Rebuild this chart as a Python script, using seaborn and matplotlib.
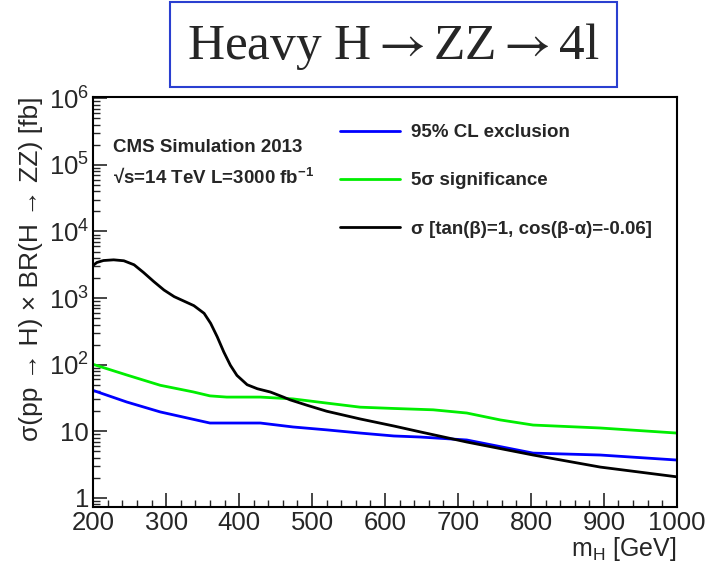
import numpy as np
import pandas as pd
import matplotlib
matplotlib.use("Agg")
import matplotlib.pyplot as plt
from matplotlib.patches import Rectangle
from matplotlib.lines import Line2D
from matplotlib.ticker import MultipleLocator, LogLocator, NullFormatter, FuncFormatter
import seaborn as sns

# ---- data ----
mass_excl = [200, 246, 292, 347, 360, 401, 429, 474, 520, 566, 612, 648, 712, 803, 895, 1000]
xsec_excl = [41, 27.5, 19.5, 14.3, 13.3, 13.3, 13.3, 11.6, 10.5, 9.4, 8.5, 8.2, 7.4, 4.7, 4.4, 3.7]

mass_sig = [200, 246, 292, 337, 360, 383, 429, 474, 520, 566, 612, 666, 712, 758, 803, 895, 1000]
xsec_sig = [101, 70, 49, 39, 34, 32.6, 32.6, 30.6, 26.5, 23, 22, 21, 18.8, 14.8, 12.4, 11.2, 9.4]

mass_th = [200, 205, 214, 228, 242, 256, 269, 283, 297, 311, 324, 338, 352, 361, 370, 379, 388,
           397, 411, 425, 443, 461, 470, 493, 520, 566, 612, 648, 712, 803, 895, 1000]
xsec_th = [3100, 3420, 3660, 3750, 3630, 3160, 2420, 1770, 1320, 1050, 904, 769, 590, 417, 262, 155, 98,
           69, 50, 43.5, 38.8, 32.5, 29.6, 24.6, 20, 15.3, 12, 9.8, 6.9, 4.4, 2.9, 2.07]

labels = ["95% CL exclusion", "5\u03c3 significance", "\u03c3 [tan(\u03b2)=1, cos(\u03b2-\u03b1)=-0.06]"]
colors = ["#0000ff", "#00ee00", "#000000"]

title = r"Heavy H$\rightarrow$ZZ$\rightarrow$4l"
cms_text = "CMS Simulation 2013"
energy_text = "\u221as=14 TeV L=3000 " + r"$\mathbf{fb^{-1}}$"

# ---- style ----
sns.set_style("ticks")
plt.rcParams["font.family"] = ["Liberation Sans", "DejaVu Sans"]
plt.rcParams["mathtext.fontset"] = "custom"
plt.rcParams["mathtext.rm"] = "Liberation Sans"
plt.rcParams["mathtext.it"] = "Liberation Sans:italic"
plt.rcParams["mathtext.bf"] = "Liberation Sans:bold"

df = pd.concat([
    pd.DataFrame({"m": mass_excl, "xs": xsec_excl, "curve": labels[0]}),
    pd.DataFrame({"m": mass_sig, "xs": xsec_sig, "curve": labels[1]}),
    pd.DataFrame({"m": mass_th, "xs": xsec_th, "curve": labels[2]}),
], ignore_index=True)

fig = plt.figure(figsize=(7.17, 5.63), dpi=100)
ax = fig.add_axes([0.130, 0.0995, 0.814, 0.7285])

sns.lineplot(data=df, x="m", y="xs", hue="curve", palette=dict(zip(labels, colors)),
             hue_order=labels, linewidth=2.0, ax=ax, legend=False, sort=True)

ax.set_yscale("log")
ax.set_xlim(200, 1000)
ax.set_ylim(0.73, 1.05e6)

ax.xaxis.set_major_locator(MultipleLocator(100))
ax.xaxis.set_minor_locator(MultipleLocator(20))
ax.yaxis.set_major_locator(LogLocator(base=10, numticks=20))
ax.yaxis.set_minor_locator(LogLocator(base=10, subs=np.arange(2, 10), numticks=20))
ax.yaxis.set_minor_formatter(NullFormatter())

def yfmt(v, pos):
    e = int(round(np.log10(v)))
    if e == 0:
        return "1"
    if e == 1:
        return "10"
    return r"$\mathdefault{10^{%d}}$" % e
ax.yaxis.set_major_formatter(FuncFormatter(yfmt))

ax.tick_params(axis="both", which="major", direction="in", length=10, width=1.2,
               labelsize=18.5, pad=3, top=False, right=False)
ax.tick_params(axis="both", which="minor", direction="in", length=5, width=1.0,
               top=False, right=False)
for s in ax.spines.values():
    s.set_linewidth(1.5)
    s.set_color("black")

ax.set_xlabel(r"m$_\mathrm{H}$ [GeV]", fontsize=18, loc="right")
ax.xaxis.set_label_coords(1.0, -0.068)
ax.set_ylabel("\u03c3(pp \u2192 H) \u00d7 BR(H \u2192 ZZ) [fb]", fontsize=19, loc="top")
ax.yaxis.set_label_coords(-0.086, 1.0)

# legend
handles = [Line2D([], [], color=c, lw=2.0) for c in colors]
leg = ax.legend(handles, labels, loc="center left", bbox_to_anchor=(0.423, 0.795),
                frameon=False, fontsize=13.5, handlelength=3.2, handletextpad=0.6,
                labelspacing=1.65, borderpad=0, borderaxespad=0)
for t in leg.get_texts():
    t.set_fontweight("bold")

ax.text(0.034, 0.876, cms_text, transform=ax.transAxes, fontsize=13.5, fontweight="bold",
        va="center", ha="left")
ax.text(0.034, 0.802, energy_text, transform=ax.transAxes, fontsize=13.5, fontweight="bold",
        va="center", ha="left")

# title box
fig.patches.append(Rectangle((170 / 717, 1 - 87 / 563), (617 - 170) / 717, (87 - 2) / 563,
                             transform=fig.transFigure, facecolor="white",
                             edgecolor="#2a3fd0", linewidth=1.5))
fig.text(393 / 717, 1 - 46 / 563, title, fontsize=37, family=["Liberation Serif", "DejaVu Serif"],
         math_fontfamily="stix", ha="center", va="center")

fig.savefig("out.png", dpi=100, facecolor="white")
